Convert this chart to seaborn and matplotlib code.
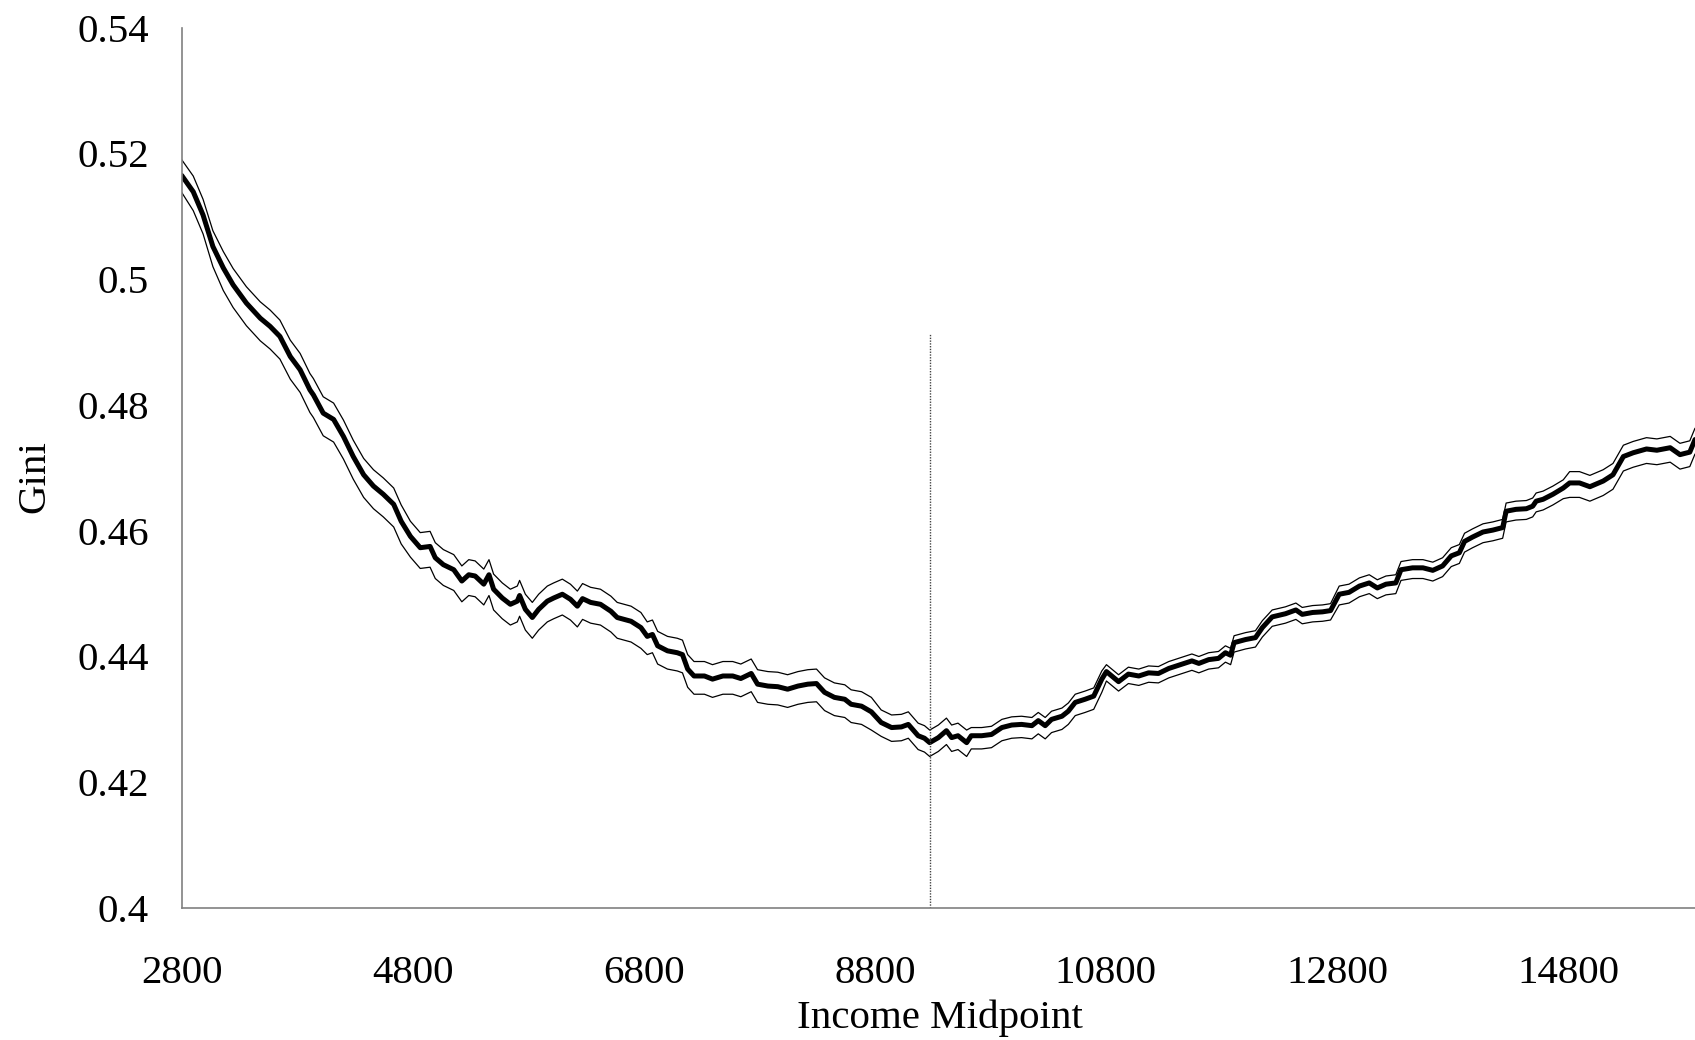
import matplotlib
matplotlib.use("Agg")
import matplotlib.pyplot as plt
import seaborn as sns
import pandas as pd

# ---- data ----
income_mid = [2800, 2900, 2985, 3070, 3160, 3245, 3360, 3480, 3565, 3650,
              3740, 3825, 3910, 3940, 4025, 4115, 4200, 4285, 4375, 4460,
              4545, 4635, 4700, 4780, 4865, 4950, 4995, 5065, 5155, 5225,
              5285, 5340, 5415, 5460, 5500, 5575, 5645, 5705, 5725, 5775,
              5835, 5890, 5965, 6020, 6095, 6165, 6225, 6270, 6340, 6425,
              6515, 6570, 6690, 6775, 6830, 6875, 6920, 7005, 7090, 7135,
              7180, 7235, 7325, 7395, 7485, 7570, 7640, 7730, 7785, 7875,
              7960, 8045, 8135, 8220, 8295, 8365, 8450, 8540, 8595, 8685,
              8770, 8855, 8945, 9030, 9090, 9175, 9230, 9275, 9350, 9420,
              9465, 9520, 9595, 9635, 9725, 9810, 9900, 9985, 10070, 10160,
              10215, 10275, 10330, 10420, 10475, 10535, 10620, 10695, 10765, 10805,
              10910, 10995, 11085, 11170, 11255, 11345, 11460, 11545, 11605, 11690,
              11775, 11835, 11880, 11910, 12010, 12095, 12155, 12240, 12355, 12445,
              12500, 12590, 12675, 12745, 12820, 12905, 12995, 13080, 13150, 13225,
              13310, 13355, 13455, 13545, 13630, 13715, 13790, 13860, 13905, 13975,
              14065, 14150, 14235, 14265, 14350, 14440, 14495, 14525, 14585, 14670,
              14760, 14815, 14900, 14990, 15105, 15190, 15280, 15365, 15480, 15570,
              15685, 15770, 15855, 15900]

gini = [0.5165, 0.5139, 0.5102, 0.5052, 0.5018, 0.4991, 0.4962, 0.4938, 0.4925, 0.4909,
        0.4877, 0.4856, 0.4824, 0.4816, 0.4787, 0.4777, 0.4750, 0.4718, 0.4689, 0.4671,
        0.4658, 0.4642, 0.4615, 0.4591, 0.4573, 0.4575, 0.4557, 0.4546, 0.4538, 0.4520,
        0.4530, 0.4528, 0.4515, 0.4530, 0.4507, 0.4493, 0.4483, 0.4488, 0.4497, 0.4475,
        0.4462, 0.4475, 0.4488, 0.4493, 0.4499, 0.4491, 0.4480, 0.4492, 0.4486, 0.4483,
        0.4472, 0.4462, 0.4456, 0.4446, 0.4432, 0.4435, 0.4417, 0.4409, 0.4406, 0.4403,
        0.4380, 0.4369, 0.4369, 0.4364, 0.4369, 0.4369, 0.4365, 0.4373, 0.4356, 0.4353,
        0.4352, 0.4348, 0.4353, 0.4356, 0.4357, 0.4343, 0.4335, 0.4332, 0.4324, 0.4321,
        0.4312, 0.4295, 0.4287, 0.4288, 0.4292, 0.4274, 0.4270, 0.4263, 0.4271, 0.4282,
        0.4271, 0.4274, 0.4263, 0.4274, 0.4274, 0.4276, 0.4287, 0.4291, 0.4292, 0.4290,
        0.4298, 0.4290, 0.4300, 0.4305, 0.4313, 0.4327, 0.4332, 0.4337, 0.4364, 0.4376,
        0.4360, 0.4372, 0.4369, 0.4374, 0.4373, 0.4381, 0.4388, 0.4393, 0.4389, 0.4395,
        0.4397, 0.4406, 0.4402, 0.4422, 0.4427, 0.4430, 0.4446, 0.4463, 0.4468, 0.4474,
        0.4467, 0.4470, 0.4471, 0.4473, 0.4499, 0.4502, 0.4512, 0.4517, 0.4509, 0.4515,
        0.4517, 0.4538, 0.4541, 0.4541, 0.4537, 0.4544, 0.4560, 0.4565, 0.4583, 0.4590,
        0.4598, 0.4601, 0.4605, 0.4631, 0.4634, 0.4635, 0.4639, 0.4647, 0.4650, 0.4658,
        0.4668, 0.4676, 0.4676, 0.4670, 0.4679, 0.4689, 0.4718, 0.4724, 0.4730, 0.4728,
        0.4732, 0.4721, 0.4725, 0.4745]

gini_upper = [0.5190, 0.5164, 0.5127, 0.5077, 0.5044, 0.5017, 0.4988, 0.4964, 0.4951, 0.4935,
              0.4903, 0.4882, 0.4850, 0.4842, 0.4813, 0.4803, 0.4776, 0.4744, 0.4715, 0.4697,
              0.4684, 0.4668, 0.4641, 0.4615, 0.4597, 0.4599, 0.4581, 0.4570, 0.4562, 0.4544,
              0.4554, 0.4552, 0.4539, 0.4554, 0.4531, 0.4517, 0.4507, 0.4512, 0.4521, 0.4499,
              0.4486, 0.4499, 0.4512, 0.4517, 0.4523, 0.4515, 0.4504, 0.4516, 0.4510, 0.4507,
              0.4496, 0.4486, 0.4480, 0.4470, 0.4455, 0.4458, 0.4440, 0.4432, 0.4429, 0.4426,
              0.4403, 0.4392, 0.4392, 0.4387, 0.4392, 0.4392, 0.4388, 0.4396, 0.4379, 0.4376,
              0.4375, 0.4371, 0.4376, 0.4379, 0.4380, 0.4366, 0.4358, 0.4355, 0.4347, 0.4344,
              0.4335, 0.4315, 0.4307, 0.4308, 0.4312, 0.4294, 0.4290, 0.4283, 0.4291, 0.4302,
              0.4291, 0.4294, 0.4283, 0.4287, 0.4287, 0.4289, 0.4300, 0.4304, 0.4305, 0.4303,
              0.4311, 0.4303, 0.4313, 0.4318, 0.4326, 0.4340, 0.4345, 0.4350, 0.4377, 0.4387,
              0.4371, 0.4383, 0.4380, 0.4385, 0.4384, 0.4392, 0.4399, 0.4404, 0.4400, 0.4406,
              0.4408, 0.4417, 0.4413, 0.4433, 0.4438, 0.4441, 0.4457, 0.4474, 0.4479, 0.4485,
              0.4478, 0.4481, 0.4482, 0.4484, 0.4512, 0.4515, 0.4525, 0.4530, 0.4522, 0.4528,
              0.4530, 0.4551, 0.4554, 0.4554, 0.4550, 0.4557, 0.4573, 0.4578, 0.4596, 0.4603,
              0.4611, 0.4614, 0.4618, 0.4644, 0.4647, 0.4648, 0.4652, 0.4660, 0.4663, 0.4671,
              0.4681, 0.4694, 0.4694, 0.4688, 0.4697, 0.4707, 0.4736, 0.4742, 0.4748, 0.4746,
              0.4750, 0.4739, 0.4743, 0.4763]

gini_lower = [0.5138, 0.5109, 0.5072, 0.5020, 0.4982, 0.4955, 0.4926, 0.4902, 0.4889, 0.4873,
              0.4841, 0.4820, 0.4788, 0.4780, 0.4751, 0.4741, 0.4714, 0.4682, 0.4653, 0.4635,
              0.4622, 0.4606, 0.4579, 0.4558, 0.4540, 0.4542, 0.4524, 0.4513, 0.4505, 0.4487,
              0.4497, 0.4495, 0.4482, 0.4497, 0.4474, 0.4460, 0.4450, 0.4455, 0.4464, 0.4442,
              0.4429, 0.4442, 0.4455, 0.4460, 0.4466, 0.4458, 0.4447, 0.4459, 0.4453, 0.4450,
              0.4439, 0.4429, 0.4423, 0.4413, 0.4403, 0.4406, 0.4388, 0.4380, 0.4377, 0.4374,
              0.4351, 0.4340, 0.4340, 0.4335, 0.4340, 0.4340, 0.4336, 0.4344, 0.4327, 0.4324,
              0.4323, 0.4319, 0.4324, 0.4327, 0.4328, 0.4314, 0.4306, 0.4303, 0.4295, 0.4292,
              0.4283, 0.4273, 0.4265, 0.4266, 0.4270, 0.4252, 0.4248, 0.4241, 0.4249, 0.4260,
              0.4249, 0.4252, 0.4241, 0.4253, 0.4253, 0.4255, 0.4266, 0.4270, 0.4271, 0.4269,
              0.4277, 0.4269, 0.4279, 0.4284, 0.4292, 0.4306, 0.4311, 0.4316, 0.4343, 0.4361,
              0.4345, 0.4357, 0.4354, 0.4359, 0.4358, 0.4366, 0.4373, 0.4378, 0.4374, 0.4380,
              0.4382, 0.4391, 0.4387, 0.4407, 0.4412, 0.4415, 0.4431, 0.4448, 0.4453, 0.4459,
              0.4452, 0.4455, 0.4456, 0.4458, 0.4482, 0.4485, 0.4495, 0.4500, 0.4492, 0.4498,
              0.4500, 0.4521, 0.4524, 0.4524, 0.4520, 0.4527, 0.4543, 0.4548, 0.4566, 0.4573,
              0.4581, 0.4584, 0.4588, 0.4614, 0.4617, 0.4618, 0.4622, 0.4630, 0.4633, 0.4641,
              0.4651, 0.4653, 0.4653, 0.4647, 0.4656, 0.4666, 0.4695, 0.4701, 0.4707, 0.4705,
              0.4709, 0.4698, 0.4702, 0.4722]

x_ticks = [2800, 4800, 6800, 8800, 10800, 12800, 14800]
y_ticks = [0.40, 0.42, 0.44, 0.46, 0.48, 0.50, 0.52, 0.54]
y_tick_labels = ["0.4", "0.42", "0.44", "0.46", "0.48", "0.5", "0.52", "0.54"]
marker_x = 9275
marker_top = 0.4915

# ---- figure ----
sns.set_theme(style="white")
plt.rcParams["font.family"] = ["Liberation Serif", "DejaVu Serif"]

df = pd.DataFrame({"Income Midpoint": income_mid, "Gini": gini,
                   "upper": gini_upper, "lower": gini_lower})

fig = plt.figure(figsize=(16.95, 10.40), dpi=100)
ax = fig.add_axes([0.1072, 0.1269, 0.8928, 0.8465])

sns.lineplot(data=df, x="Income Midpoint", y="upper", ax=ax, color="black",
             linewidth=0.9, estimator=None, sort=False)
sns.lineplot(data=df, x="Income Midpoint", y="lower", ax=ax, color="black",
             linewidth=0.9, estimator=None, sort=False)
sns.lineplot(data=df, x="Income Midpoint", y="Gini", ax=ax, color="black",
             linewidth=3.6, estimator=None, sort=False)

ax.vlines(marker_x, 0.40, marker_top, colors="#444444", linestyles=(0, (1, 1)),
          linewidth=1.0)

ax.set_xlim(2800, 15900)
ax.set_ylim(0.40, 0.54)
ax.set_xticks(x_ticks)
ax.set_xticklabels([str(t) for t in x_ticks])
ax.set_yticks(y_ticks)
ax.set_yticklabels(y_tick_labels)

for side in ["top", "right"]:
    ax.spines[side].set_visible(False)
for side in ["left", "bottom"]:
    ax.spines[side].set_color("#808080")
    ax.spines[side].set_linewidth(1.2)

ax.tick_params(axis="both", which="major", direction="out", length=8.5, width=1.2,
               color="#808080", labelsize=29.5, labelcolor="black")
ax.tick_params(axis="x", pad=25)
ax.tick_params(axis="y", pad=15)

ax.set_xlabel("Income Midpoint", fontsize=29.5, color="black")
ax.set_ylabel("Gini", fontsize=29.5, color="black")
ax.xaxis.set_label_coords(0.501, -0.125)
ax.xaxis.label.set_verticalalignment("center")
ax.yaxis.set_label_coords(-0.097, 0.49)
ax.yaxis.label.set_verticalalignment("center")

fig.savefig("out.png", dpi=100)
